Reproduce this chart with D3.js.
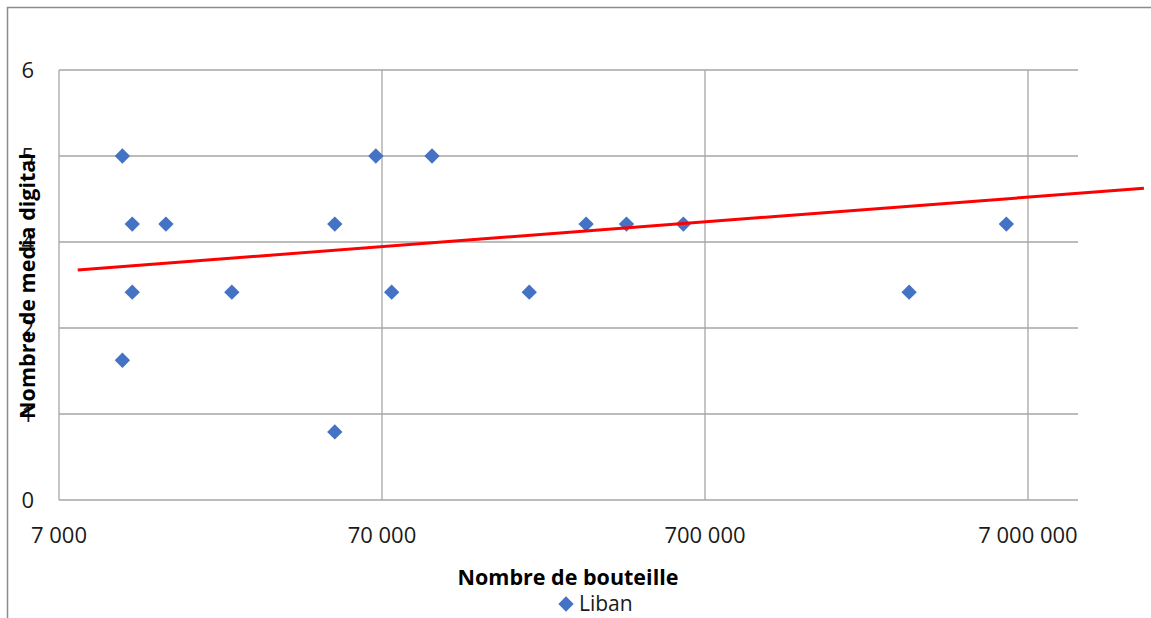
<!DOCTYPE html>
<html>
<head>
<meta charset="utf-8">
<script src="https://cdn.jsdelivr.net/npm/d3@7"></script>
<style>
    body { margin: 0; background: #fff; }
    svg { display: block; font-family: "Open Sans", sans-serif; }
</style>
</head>
<body>
<svg id="chart" width="1151" height="618"></svg>
<script>
// bottles (x, log scale) and digital media count (y)
const bouteilles = [11000, 11000, 11800, 11800, 15000, 24000, 50000, 50000, 67000, 75000,
    100000, 200000, 300000, 400000, 600000, 3000000, 6000000];
const medias = [4.8, 1.95, 3.85, 2.9, 3.85, 2.9, 3.85, 0.95, 4.8, 2.9,
    4.8, 2.9, 3.85, 3.85, 3.85, 2.9, 3.85];
// trend line end points
const trendX = [8000, 16000000];
const trendY = [3.21, 4.35];
const xTicks = [7000, 70000, 700000, 7000000];
const yTicks = [0, 1.2, 2.4, 3.6, 4.8, 6];
const serieName = 'Liban';

const svg = d3.select('#chart');
const x = d3.scaleLog().domain([7000, 10000000]).range([59, 1078]);
const y = d3.scaleLinear().domain([0, 6]).range([500, 70]);
const fmtX = v => d3.format(',')(v).replace(/,/g, '\u00a0');

// outer chart border (cut off at right / bottom)
svg.append('rect')
    .attr('x', 7.5).attr('y', 7.5)
    .attr('width', 1200).attr('height', 700)
    .attr('fill', 'none').attr('stroke', '#8c8c8c').attr('stroke-width', 1.5);

// horizontal gridlines
svg.selectAll('.horizontal')
    .data(yTicks).enter().append('line')
    .attr('class', 'horizontal')
    .attr('x1', x.range()[0]).attr('x2', x.range()[1])
    .attr('y1', d => y(d)).attr('y2', d => y(d))
    .attr('stroke', '#a6a6a6').attr('stroke-width', 1.3);

// vertical gridlines (the first one is the axis line)
svg.selectAll('.vertical')
    .data(xTicks).enter().append('line')
    .attr('class', 'vertical')
    .attr('x1', d => x(d)).attr('x2', d => x(d))
    .attr('y1', y(0)).attr('y2', y(6))
    .attr('stroke', '#a6a6a6').attr('stroke-width', 1.3);

// y tick labels, rounded like the original number format
svg.selectAll('.ylabel')
    .data(yTicks).enter().append('text')
    .attr('x', 34).attr('y', d => y(d))
    .attr('dy', '0.35em')
    .attr('text-anchor', 'end')
    .attr('font-size', 22).attr('fill', '#1a1a1a')
    .text(d => d3.format('.0f')(d));

// x tick labels
svg.selectAll('.xlabel')
    .data(xTicks).enter().append('text')
    .attr('x', d => x(d)).attr('y', 543)
    .attr('text-anchor', 'middle')
    .attr('font-size', 22).attr('fill', '#1a1a1a')
    .text(fmtX);

// points
const diamond = d3.symbol().type(d3.symbolDiamond2).size(150);
svg.selectAll('.pt')
    .data(d3.zip(bouteilles, medias)).enter().append('path')
    .attr('d', diamond)
    .attr('transform', d => `translate(${x(d[0])},${y(d[1])})`)
    .attr('fill', '#4472c4');

// trend line
svg.append('path')
    .datum(d3.zip(trendX, trendY))
    .attr('fill', 'none')
    .attr('stroke', '#ff0000').attr('stroke-width', 3)
    .attr('d', d3.line().x(d => x(d[0])).y(d => y(d[1])));

// axis titles
svg.append('text')
    .attr('x', 568).attr('y', 585)
    .attr('text-anchor', 'middle')
    .attr('font-size', 21.5).attr('font-weight', 'bold')
    .text('Nombre de bouteille');

svg.append('text')
    .attr('transform', 'translate(35,286) rotate(-90)')
    .attr('text-anchor', 'middle')
    .attr('font-size', 21.5).attr('font-weight', 'bold')
    .text('Nombre de media digital');

// legend
const legend = svg.append('g').attr('transform', 'translate(566,604)');
legend.append('path').attr('d', diamond).attr('fill', '#4472c4');
legend.append('text')
    .attr('x', 13).attr('dy', '0.35em')
    .attr('font-size', 21).attr('fill', '#1a1a1a')
    .text(serieName);
</script>
</body>
</html>
